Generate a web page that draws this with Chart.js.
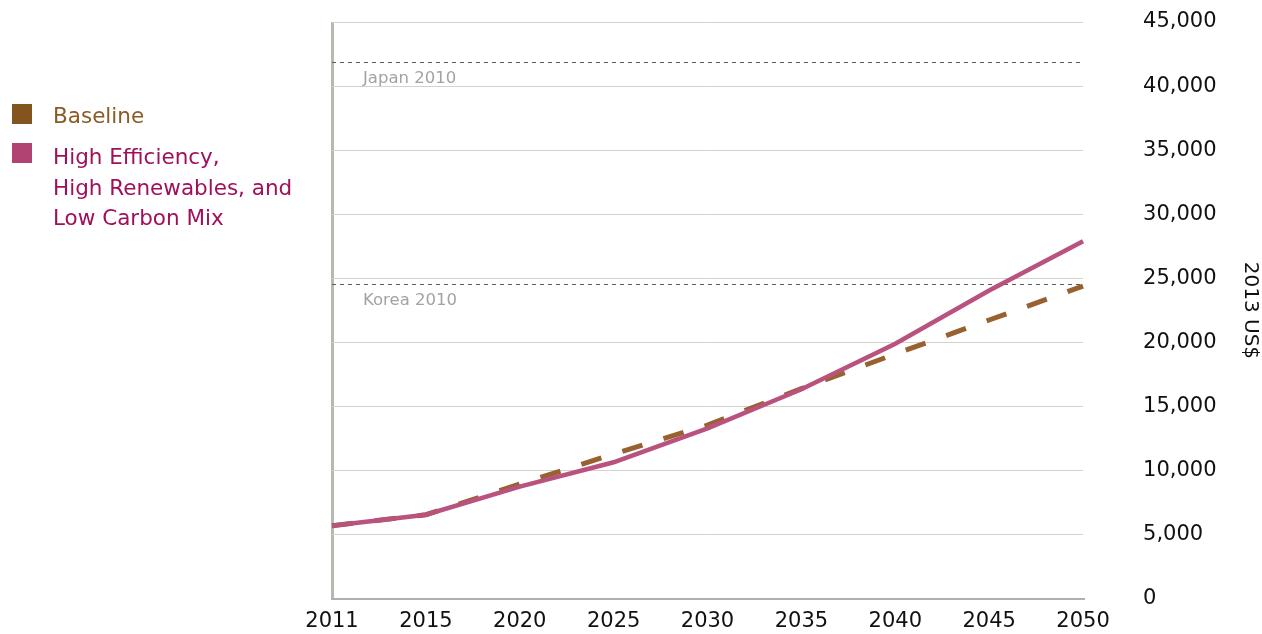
<!DOCTYPE html>
<html>
<head>
<meta charset="utf-8">
<script src="https://cdn.jsdelivr.net/npm/chart.js@4"></script>
<style>
  body { margin: 0; background: #fff; }
  canvas { display: block; }
</style>
</head>
<body>
<canvas id="gdpChart" width="1262" height="634"></canvas>
<script>
// Years on the x axis
const years = ['2011', '2015', '2020', '2025', '2030', '2035', '2040', '2045', '2050'];

// GDP per capita, 2013 US$
const baseline = [5700, 6560, 8950, 11300, 13550, 16400, 19100, 21750, 24400];
const highMix = [5700, 6560, 8750, 10650, 13300, 16350, 19900, 24050, 27900];

// Reference levels (dashed grey lines)
const refNames = ['Japan 2010', 'Korea 2010'];
const refValues = [41900, 24580];

// Legend text
const legendNames = ['Baseline', ['High Efficiency,', 'High Renewables, and', 'Low Carbon Mix']];

const FONT = '"DejaVu Sans", sans-serif';

// draws the two dashed reference lines and their labels
const refLinesPlugin = {
  id: 'refLines',
  beforeDatasetsDraw(chart) {
    const { ctx, chartArea, scales } = chart;
    ctx.save();
    refValues.forEach((v, i) => {
      const y = Math.round(scales.y.getPixelForValue(v)) + 0.5;
      ctx.strokeStyle = '#5a5a5a';
      ctx.lineWidth = 1;
      ctx.setLineDash([4, 4]);
      ctx.beginPath();
      ctx.moveTo(chartArea.left, y);
      ctx.lineTo(chartArea.right, y);
      ctx.stroke();
      ctx.setLineDash([]);
      ctx.fillStyle = '#a3a3a3';
      ctx.font = '16.5px ' + FONT;
      ctx.textBaseline = 'middle';
      ctx.textAlign = 'left';
      ctx.fillText(refNames[i], chartArea.left + 31, y + 16);
    });
    ctx.restore();
  }
};

// legend on the left side, with a wrapped second entry
const sideLegend = {
  id: 'sideLegend',
  afterDraw(chart) {
    const ctx = chart.ctx;
    ctx.save();
    ctx.font = '21.5px ' + FONT;
    ctx.textBaseline = 'alphabetic';
    ctx.textAlign = 'left';
    const boxColors = ['#84541f', '#b04372'];
    const textColors = ['#8b5a24', '#a0105a'];
    const tops = [104, 143];
    const firstBase = [123, 164];
    legendNames.forEach((name, i) => {
      ctx.fillStyle = boxColors[i];
      ctx.fillRect(12, tops[i], 20, 20);
      ctx.fillStyle = textColors[i];
      const lines = Array.isArray(name) ? name : [name];
      lines.forEach((ln, j) => ctx.fillText(ln, 53, firstBase[i] + j * 30.5));
    });
    ctx.restore();
  }
};

new Chart(document.getElementById('gdpChart'), {
  type: 'line',
  data: {
    labels: years,
    datasets: [
      {
        label: 'High Efficiency, High Renewables, and Low Carbon Mix',
        data: highMix,
        borderColor: '#b9527f',
        borderWidth: 4.5,
        pointRadius: 0,
        tension: 0,
        order: 0
      },
      {
        label: 'Baseline',
        data: baseline,
        borderColor: '#97622f',
        borderWidth: 5,
        borderDash: [21, 22],
        borderCapStyle: 'butt',
        pointRadius: 0,
        tension: 0,
        order: 1
      }
    ]
  },
  options: {
    responsive: false,
    animation: false,
    layout: { padding: { left: 332, top: 22, right: 0, bottom: 0 } },
    plugins: {
      legend: { display: false },
      tooltip: { enabled: false }
    },
    scales: {
      x: {
        offset: false,
        grid: {
          drawTicks: true,
          tickLength: 10,
          tickColor: 'rgba(0,0,0,0)',
          color: (c) => (c.index === 0 ? '#b8b8b0' : 'rgba(0,0,0,0)'),
          lineWidth: 3
        },
        border: { display: true, color: '#b0b0a8', width: 2 },
        ticks: {
          color: '#111',
          font: { family: FONT, size: 21 },
          padding: 0,
          maxRotation: 0,
          autoSkip: false
        }
      },
      y: {
        position: 'right',
        min: 0,
        max: 45000,
        grid: {
          drawTicks: true,
          tickLength: 58,
          tickColor: 'rgba(0,0,0,0)',
          color: '#d3d3c8',
          lineWidth: 1
        },
        border: { display: false },
        ticks: {
          stepSize: 5000,
          padding: 2,
          color: '#111',
          font: { family: FONT, size: 21 },
          callback: (v) => v.toLocaleString('en-US')
        },
        title: {
          display: true,
          text: '2013 US$',
          color: '#111',
          font: { family: FONT, size: 20 },
          padding: { top: 0, bottom: 19.5 }
        }
      }
    }
  },
  plugins: [refLinesPlugin, sideLegend]
});
</script>
</body>
</html>
